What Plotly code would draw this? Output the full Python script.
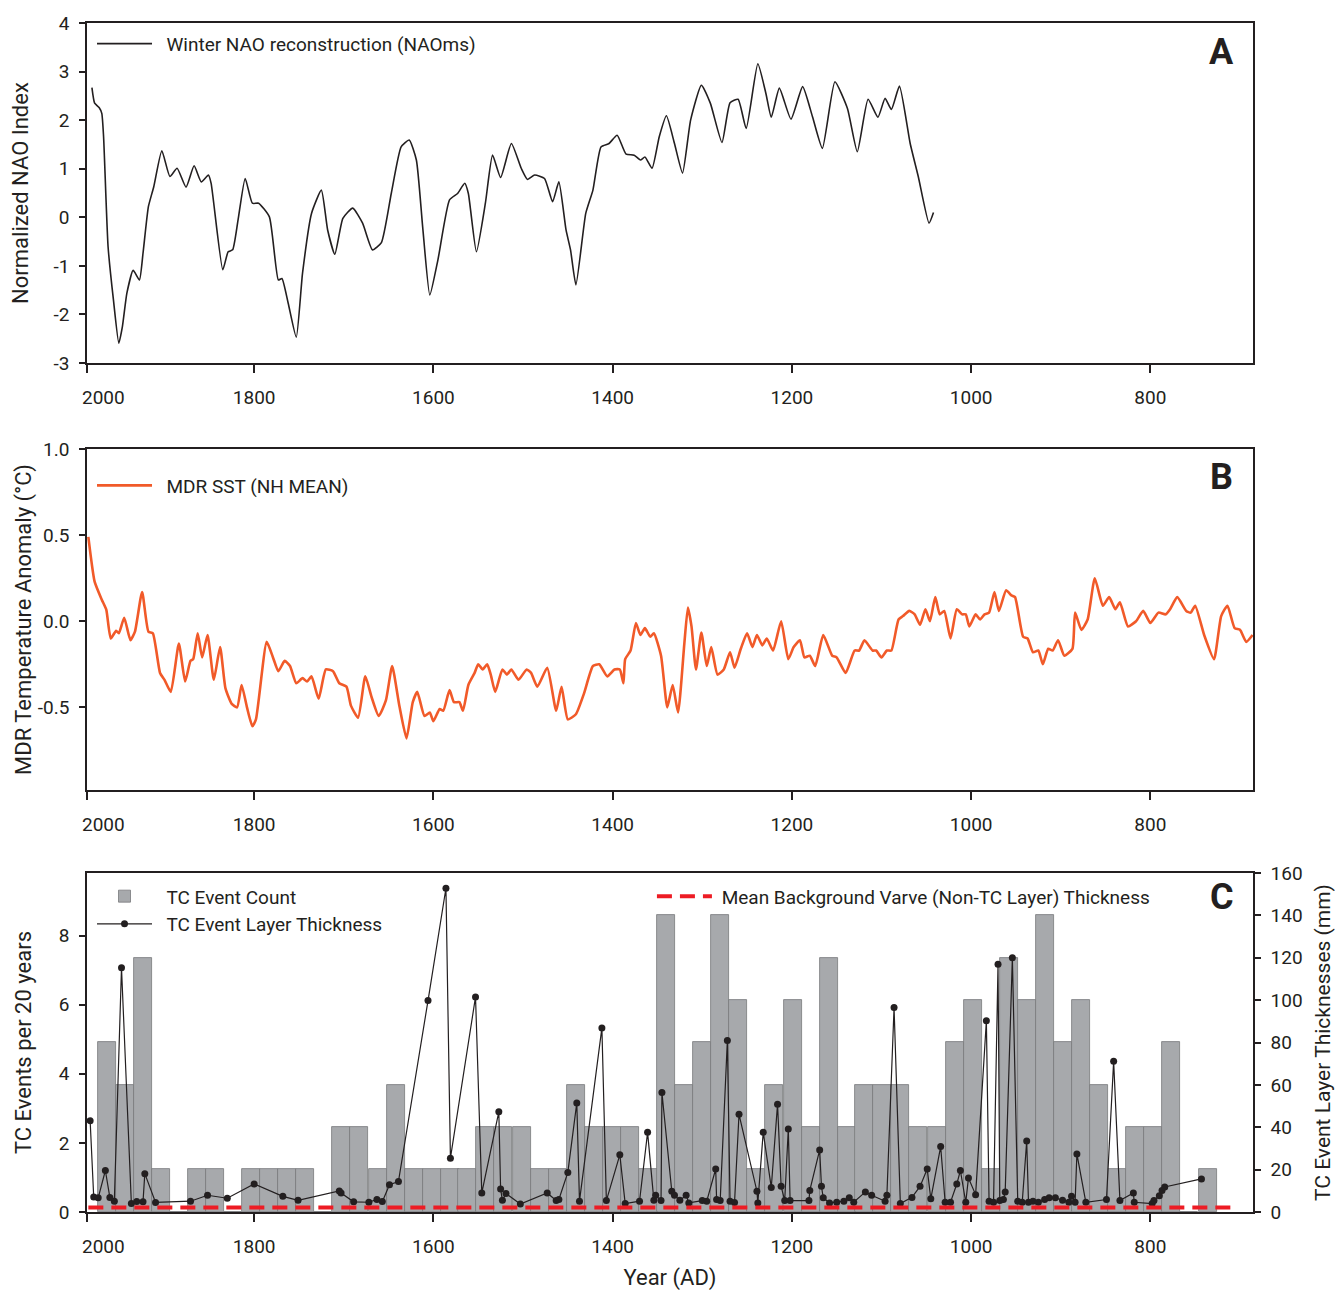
import plotly.graph_objects as go

# panel A - winter NAO reconstruction
nao_year = [1981, 1978, 1973, 1970, 1968, 1963, 1957, 1951, 1947, 1942, 1935, 1928, 1924, 1918,
            1912, 1903, 1894, 1886, 1876, 1867, 1859, 1851, 1848, 1835, 1829, 1824, 1818, 1810,
            1802, 1795, 1783, 1773, 1769, 1762, 1753, 1746, 1736, 1725, 1718, 1710, 1701, 1690,
            1679, 1668, 1658, 1647, 1636, 1627, 1619, 1612, 1604, 1595, 1582, 1573, 1565, 1561,
            1552, 1542, 1534, 1525, 1513, 1502, 1495, 1487, 1476, 1467, 1460, 1452, 1447, 1441,
            1430, 1422, 1413, 1404, 1395, 1385, 1376, 1369, 1364, 1356, 1348, 1340, 1331, 1322,
            1313, 1301, 1291, 1278, 1269, 1260, 1251, 1238, 1229, 1223, 1214, 1201, 1188, 1177,
            1166, 1152, 1138, 1127, 1115, 1104, 1096, 1089, 1080, 1068, 1059, 1047, 1042]
nao_value = [2.67, 2.35, 2.26, 2.14, 1.66, -0.6, -1.70, -2.59, -2.25, -1.56, -1.09, -1.29, -0.74, 0.22,
             0.63, 1.37, 0.84, 1.01, 0.62, 1.06, 0.73, 0.87, 0.70, -1.08, -0.71, -0.67, -0.06, 0.80,
             0.29, 0.29, 0.01, -1.29, -1.26, -1.77, -2.47, -1.15, 0.08, 0.56, -0.26, -0.76, -0.02, 0.19,
             -0.12, -0.67, -0.52, 0.49, 1.45, 1.59, 1.18, -0.19, -1.60, -0.88, 0.36, 0.49, 0.70, 0.49,
             -0.71, 0.29, 1.28, 0.82, 1.52, 1.01, 0.78, 0.87, 0.80, 0.32, 0.73, -0.26, -0.67, -1.39,
             0.08, 0.56, 1.45, 1.52, 1.69, 1.30, 1.28, 1.18, 1.24, 1.01, 1.66, 2.09, 1.52, 0.91,
             2.00, 2.72, 2.35, 1.54, 2.36, 2.43, 1.83, 3.16, 2.55, 2.06, 2.66, 2.02, 2.69, 2.07,
             1.42, 2.79, 2.24, 1.35, 2.43, 2.06, 2.45, 2.22, 2.70, 1.52, 0.84, -0.12, 0.10]

# panel B - MDR SST
sst_year = [1985, 1978, 1970, 1965, 1960, 1954, 1951, 1945, 1938, 1933, 1925, 1918, 1913, 1905,
            1900, 1893, 1884, 1877, 1871, 1868, 1863, 1858, 1852, 1845, 1838, 1832, 1825, 1819,
            1814, 1808, 1802, 1798, 1786, 1779, 1773, 1766, 1760, 1753, 1746, 1741, 1736, 1728,
            1720, 1712, 1705, 1697, 1692, 1684, 1676, 1669, 1661, 1653, 1646, 1638, 1630, 1623,
            1618, 1610, 1604, 1600, 1593, 1589, 1582, 1577, 1571, 1567, 1561, 1554, 1550, 1545,
            1540, 1536, 1531, 1523, 1518, 1513, 1505, 1496, 1491, 1484, 1473, 1463, 1457, 1450,
            1441, 1432, 1422, 1415, 1406, 1398, 1392, 1388, 1386, 1380, 1374, 1369, 1364, 1358,
            1354, 1346, 1339, 1333, 1327, 1320, 1316, 1312, 1307, 1301, 1295, 1290, 1283, 1276,
            1269, 1264, 1257, 1250, 1244, 1239, 1233, 1228, 1221, 1212, 1204, 1198, 1191, 1186,
            1180, 1174, 1165, 1155, 1150, 1140, 1130, 1125, 1119, 1110, 1106, 1100, 1094, 1089,
            1081, 1076, 1069, 1063, 1057, 1051, 1046, 1040, 1035, 1030, 1023, 1016, 1010, 1006,
            1002, 995, 990, 985, 980, 974, 969, 961, 955, 951, 942, 937, 931, 925,
            920, 914, 909, 903, 896, 887, 884, 877, 870, 862, 853, 846, 839, 834,
            825, 816, 808, 800, 791, 783, 778, 770, 760, 755, 750, 740, 729, 721,
            714, 706, 700, 693, 686]
sst_value = [0.49, 0.23, 0.125, 0.067, -0.10, -0.055, -0.07, 0.02, -0.11, -0.06, 0.17, -0.06, -0.07, -0.30,
             -0.34, -0.41, -0.13, -0.35, -0.23, -0.22, -0.07, -0.21, -0.08, -0.34, -0.15, -0.39, -0.48, -0.50,
             -0.37, -0.50, -0.61, -0.57, -0.12, -0.21, -0.29, -0.23, -0.26, -0.36, -0.33, -0.35, -0.32, -0.45,
             -0.28, -0.29, -0.36, -0.38, -0.49, -0.56, -0.32, -0.44, -0.55, -0.46, -0.26, -0.49, -0.68, -0.47,
             -0.41, -0.55, -0.53, -0.58, -0.51, -0.52, -0.40, -0.47, -0.47, -0.52, -0.37, -0.30, -0.25, -0.28,
             -0.25, -0.31, -0.41, -0.28, -0.31, -0.28, -0.34, -0.28, -0.30, -0.38, -0.27, -0.52, -0.38, -0.57,
             -0.54, -0.42, -0.26, -0.25, -0.32, -0.28, -0.28, -0.36, -0.22, -0.17, -0.01, -0.08, -0.04, -0.09,
             -0.07, -0.20, -0.50, -0.37, -0.53, -0.13, 0.08, -0.03, -0.28, -0.065, -0.26, -0.15, -0.31, -0.28,
             -0.18, -0.27, -0.16, -0.07, -0.15, -0.08, -0.14, -0.10, -0.17, 0.00, -0.22, -0.15, -0.11, -0.21,
             -0.20, -0.26, -0.08, -0.20, -0.21, -0.30, -0.17, -0.17, -0.11, -0.17, -0.17, -0.21, -0.17, -0.17,
             0.01, 0.03, 0.06, 0.04, -0.02, 0.07, 0.00, 0.14, 0.04, 0.06, -0.10, 0.07, 0.04, 0.04,
             -0.03, 0.04, 0.01, 0.04, 0.05, 0.17, 0.06, 0.18, 0.15, 0.14, -0.09, -0.10, -0.18, -0.17,
             -0.25, -0.16, -0.17, -0.11, -0.20, -0.16, 0.05, -0.05, 0.01, 0.25, 0.09, 0.14, 0.07, 0.11,
             -0.03, 0.00, 0.06, -0.01, 0.05, 0.04, 0.07, 0.14, 0.06, 0.05, 0.09, -0.08, -0.22, 0.03,
             0.09, -0.04, -0.05, -0.12, -0.08]

# panel C - TC events per 20-year bin
bin_year = [1964, 1944, 1924, 1904, 1884, 1864, 1844, 1824, 1803, 1783, 1763, 1743, 1723, 1703,
            1683, 1662, 1642, 1622, 1602, 1582, 1562, 1542, 1522, 1501, 1481, 1461, 1441, 1421,
            1401, 1381, 1360, 1340, 1320, 1300, 1280, 1260, 1240, 1220, 1199, 1179, 1159, 1139,
            1119, 1099, 1079, 1059, 1038, 1018, 998, 978, 958, 938, 918, 898, 877, 857,
            837, 817, 797, 777, 757, 736]
event_count = [4.91, 3.68, 7.36, 1.23, 0, 1.23, 1.23, 0, 1.23, 1.23, 1.23, 1.23, 0, 2.45,
               2.45, 1.23, 3.68, 1.23, 1.23, 1.23, 1.23, 2.45, 2.45, 2.45, 1.23, 1.23, 3.68, 2.45,
               2.45, 2.45, 1.23, 8.59, 3.68, 4.91, 8.59, 6.14, 1.23, 3.68, 6.14, 2.45, 7.36, 2.45,
               3.68, 3.68, 3.68, 2.45, 2.45, 4.91, 6.14, 1.23, 7.36, 6.14, 8.59, 4.91, 6.14, 3.68,
               1.23, 2.45, 2.45, 4.91, 0, 1.23]

# TC event layer thickness (mm)
layer_year = [1983, 1979, 1974, 1966, 1961, 1956, 1948, 1937, 1931, 1924, 1922, 1910, 1871, 1852,
              1830, 1800, 1768, 1751, 1705, 1703, 1689, 1672, 1663, 1657, 1649, 1639, 1606, 1586,
              1581, 1553, 1546, 1527, 1525, 1523, 1519, 1503, 1473, 1463, 1460, 1450, 1440, 1437,
              1412, 1407, 1392, 1386, 1370, 1361, 1354, 1352, 1346, 1345, 1334, 1331, 1325, 1318,
              1315, 1300, 1295, 1285, 1284, 1280, 1272, 1269, 1264, 1259, 1239, 1238, 1232, 1223,
              1216, 1212, 1208, 1204, 1202, 1181, 1180, 1169, 1167, 1165, 1158, 1150, 1142, 1136,
              1131, 1118, 1111, 1096, 1094, 1086, 1079, 1066, 1057, 1049, 1045, 1034, 1029, 1023,
              1016, 1012, 1006, 1003, 995, 983, 980, 975, 970, 968, 964, 962, 954, 948,
              943, 938, 936, 931, 925, 918, 913, 906, 898, 891, 888, 884, 882, 872,
              849, 841, 834, 819, 818, 798, 796, 790, 787, 784, 743]
layer_mm = [43.1, 7.1, 6.7, 19.6, 6.9, 5.1, 115.3, 4.0, 4.9, 4.8, 18.1, 4.5, 5.1, 7.9,
            6.5, 13.2, 7.4, 5.5, 9.9, 9.0, 4.8, 4.6, 5.9, 4.9, 12.9, 14.4, 99.8, 152.8,
            25.4, 101.5, 9.0, 47.3, 10.9, 5.5, 8.7, 3.8, 9.0, 5.4, 5.9, 18.7, 51.5, 5.1,
            86.9, 5.4, 27.0, 4.0, 5.1, 37.6, 5.5, 7.9, 5.4, 56.4, 9.8, 7.9, 5.5, 7.9,
            4.3, 5.4, 5.1, 20.3, 5.9, 5.4, 80.9, 5.1, 4.5, 46.1, 9.8, 4.3, 37.6, 11.6,
            50.9, 12.1, 5.4, 39.2, 5.4, 5.4, 10.2, 29.3, 12.1, 6.7, 4.3, 4.6, 5.1, 6.7,
            4.6, 9.5, 7.9, 5.1, 7.9, 96.5, 4.0, 6.9, 12.1, 20.3, 6.2, 30.9, 4.6, 4.6,
            13.2, 19.6, 4.6, 16.0, 8.2, 90.3, 5.1, 4.6, 116.9, 5.4, 5.9, 9.5, 120.0, 5.1,
            4.6, 33.5, 4.6, 5.1, 4.6, 5.9, 6.7, 6.7, 5.5, 4.6, 7.4, 4.6, 27.4, 4.6,
            5.9, 71.1, 5.4, 9.0, 4.6, 4.0, 5.4, 7.7, 10.2, 11.8, 15.6]

background_year = [1985, 702]
background_mm = [2.1, 2.1]

year_ticks = [1986.5, 1800, 1600, 1400, 1200, 1000, 800]
year_labels = ['', '1800', '1600', '1400', '1200', '1000', '800']

ink = '#231f20'
fnt = 'Roboto'
sp = '\u00a0'

fig = go.Figure()

fig.add_trace(go.Scatter(x=nao_year, y=nao_value, mode='lines',
                         name=sp * 2 + 'Winter NAO reconstruction (NAOms)',
                         line=dict(color=ink, width=1.6, shape='spline', smoothing=0.5),
                         xaxis='x', yaxis='y', legend='legend'))
fig.add_trace(go.Scatter(x=sst_year, y=sst_value, mode='lines', name=sp * 2 + 'MDR SST (NH MEAN)',
                         line=dict(color='#f15a29', width=2.6, shape='spline', smoothing=0.5),
                         xaxis='x2', yaxis='y2', legend='legend2'))
fig.add_trace(go.Bar(x=bin_year, y=event_count, width=20.1, name=sp * 2 + 'TC Event Count',
                     marker=dict(color='#a7a9ac', line=dict(color='#77787b', width=0.8)),
                     xaxis='x3', yaxis='y3', legend='legend3'))
fig.add_trace(go.Scatter(x=layer_year, y=layer_mm, mode='lines+markers',
                         name=sp * 2 + 'TC Event Layer Thickness',
                         line=dict(color=ink, width=1.2), marker=dict(color=ink, size=7),
                         xaxis='x3', yaxis='y4', legend='legend3'))
fig.add_trace(go.Scatter(x=background_year, y=background_mm, mode='lines',
                         name=sp + 'Mean Background Varve (Non-TC Layer) Thickness',
                         line=dict(color='#ed1c24', width=4, dash='15px,8px'),
                         xaxis='x3', yaxis='y4', legend='legend4'))

xcommon = dict(range=[1986.5, 685.5], tickvals=year_ticks, ticktext=year_labels, ticks='outside',
               ticklen=8, tickwidth=1.5, tickcolor=ink, showline=True, linecolor=ink, linewidth=1.5,
               mirror=True, showgrid=False, zeroline=False, ticklabelstandoff=8, automargin=False,
               tickfont=dict(size=19, color=ink, family=fnt))
ycommon = dict(ticks='outside', ticklen=6, tickwidth=1.5, tickcolor=ink, showline=True, linecolor=ink,
               linewidth=1.5, showgrid=False, zeroline=False, ticklabelstandoff=6, automargin=False,
               tickfont=dict(size=19, color=ink, family=fnt))
titlefont = dict(size=22, color=ink, family=fnt)

legfont = dict(size=19, color=ink, family=fnt)
legcommon = dict(xanchor='left', yanchor='top', bgcolor='rgba(0,0,0,0)', font=legfont, itemwidth=55)

# the page body keeps an 8px margin, so the figure is sized to fit inside it
fig.update_layout(
    width=1327, height=1283,
    margin=dict(l=79, r=82, t=15, b=79, autoexpand=False),
    plot_bgcolor='white', paper_bgcolor='white',
    font=dict(family=fnt, color=ink),
    showlegend=True,
    bargap=0,
    xaxis=dict(xcommon, domain=[0, 1], anchor='y'),
    yaxis=dict(ycommon, domain=[0.714, 1.0], range=[-3, 4], anchor='x', mirror=True,
               tickvals=[-3, -2, -1, 0, 1, 2, 3, 4], ticktext=['-3', '-2', '-1', '0', '1', '2', '3', '4'],
               title=dict(text='Normalized NAO Index', font=titlefont, standoff=20)),
    xaxis2=dict(xcommon, domain=[0, 1], anchor='y2'),
    yaxis2=dict(ycommon, domain=[0.3549, 0.6417], range=[-0.98, 1.0], anchor='x2', mirror=True,
                tickvals=[-0.5, 0, 0.5, 1.0], ticktext=['-0.5', '0.0', '0.5', '1.0'],
                title=dict(text='MDR Temperature Anomaly (°C)', font=titlefont, standoff=0)),
    xaxis3=dict(xcommon, domain=[0, 1], anchor='y3',
                title=dict(text='Year (AD)', font=titlefont, standoff=32)),
    yaxis3=dict(ycommon, domain=[0, 0.2851], range=[0, 9.81], anchor='x3',
                tickvals=[0, 2, 4, 6, 8],
                title=dict(text='TC Events per 20 years', font=titlefont, standoff=21)),
    yaxis4=dict(ycommon, range=[0, 160], anchor='x3', overlaying='y3', side='right',
                tickvals=[0, 20, 40, 60, 80, 100, 120, 140, 160],
                title=dict(text='TC Event Layer Thicknesses (mm)', font=dict(titlefont, size=21), standoff=17)),
    legend=dict(legcommon, x=0.0043, y=0.9985),
    legend2=dict(legcommon, x=0.0043, y=0.627),
    legend3=dict(legcommon, x=0.0043, y=0.2815, tracegroupgap=0),
    legend4=dict(legcommon, x=0.4845, y=0.2815),
)

# "2000" labels sit a little right of the left axis edge
for xr, yp in [('x', 0.6854), ('x2', 0.3263), ('x3', -0.0294)]:
    fig.add_annotation(text='2000', x=1967.7, xref=xr, y=yp, yref='paper', showarrow=False,
                       xanchor='center', yanchor='middle', font=dict(size=19, color=ink, family=fnt))

# panel letters
for letter, yp in [('A', 0.9756), ('B', 0.6182), ('C', 0.2649)]:
    fig.add_annotation(text='<b>' + letter + '</b>', x=0.9734, xref='paper', y=yp, yref='paper',
                       showarrow=False, xanchor='center', yanchor='middle',
                       font=dict(size=36, color=ink, family=fnt))

fig.write_html('out.html')
